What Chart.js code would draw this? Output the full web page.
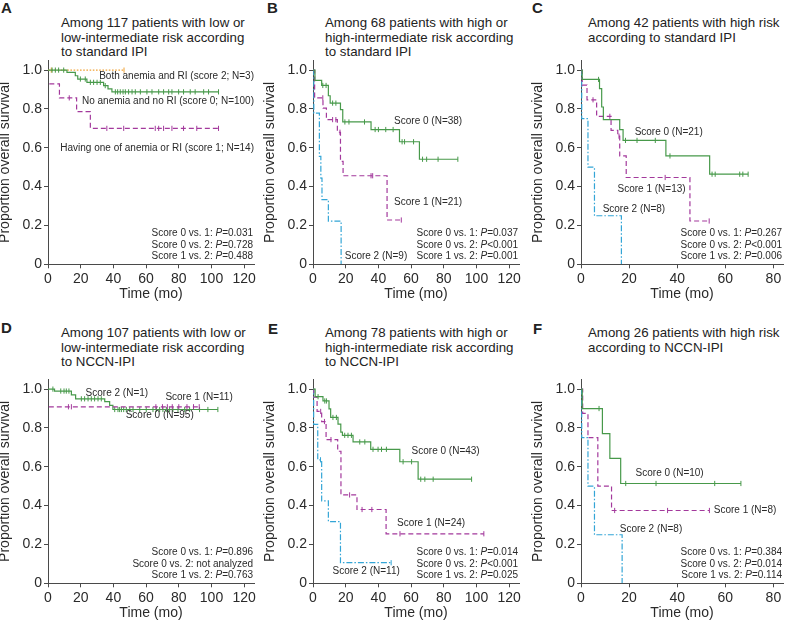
<!DOCTYPE html>
<html>
<head>
<meta charset="utf-8">
<script src="https://cdn.jsdelivr.net/npm/chart.js@4.4.1/dist/chart.umd.min.js"></script>
<style>
  body { margin: 0; width: 788px; height: 626px; position: relative; overflow: hidden; background: #fff;
         font-family: "Liberation Sans", Arial, sans-serif; color: #222; }
  canvas { position: absolute; }
  .letter { position: absolute; font-weight: bold; font-size: 15px; line-height: 15px; }
  .title { position: absolute; font-size: 13.3px; line-height: 14.5px; white-space: nowrap; }
</style>
</head>
<body>
<div id="root"></div>
<script>
'use strict';

// ── Shared axis values ─────────────────────────────────────────────────────
var X_TICKS_LONG  = [0, 20, 40, 60, 80, 100, 120];
var X_TICKS_SHORT = [0, 20, 40, 60, 80];
var Y_TICKS       = [0, 0.2, 0.4, 0.6, 0.8, 1.0];
var COMPARISONS   = ['Score 0 vs. 1', 'Score 0 vs. 2', 'Score 1 vs. 2'];

// ── Panel A: standard IPI, low / low-intermediate ──────────────────────────
var A_t0 = [0, 11.6, 16.7, 18.2, 23.8, 34, 36.7, 39.1];
var A_s0 = [1, 0.988, 0.971, 0.954, 0.937, 0.92, 0.903, 0.888];
var A_c0 = [2.5, 4.5, 6.5, 9.6, 19.8, 22.8, 25.9, 27.9, 30, 32, 35, 41.2, 42.6, 44.2, 45.9, 47.3, 49.3,
            51.4, 53.4, 56.5, 60.5, 63.6, 67.7, 70.7, 73.8, 75.8, 79.9, 82.9, 87, 90, 95.2, 98.2, 104.3];
var A_t1 = [0.8, 7, 17.5, 25.9];
var A_s1 = [0.929, 0.857, 0.786, 0.70];
var A_c1 = [13, 36, 46.3, 65.6, 67.7, 70.7, 75.8, 82.9, 91, 104.3];
var A_t2 = [0];
var A_s2 = [1];
var A_c2 = [2, 46.5];
var A_P  = ['=0.031', '=0.728', '=0.488'];

// ── Panel B: standard IPI, high / high-intermediate ────────────────────────
var B_t0 = [0, 1.2, 5.3, 9.4, 10.5, 16.8, 18.2, 35.5, 52.9, 65.1];
var B_s0 = [1, 0.947, 0.921, 0.868, 0.83, 0.796, 0.733, 0.694, 0.631, 0.541];
var B_c0 = [6, 8, 12, 14, 19.5, 22, 31.5, 38, 40, 44.5, 49, 54.5, 56, 61.5, 67, 69.5, 76.5, 88.6];
var B_t1 = [0, 1, 6.1, 8.2, 14.9, 16.8, 18.4, 45.3];
var B_s1 = [1, 0.857, 0.804, 0.745, 0.68, 0.53, 0.456, 0.228];
var B_c1 = [6, 12, 14, 16.5, 35.5, 36.5, 54];
var B_t2 = [0, 0.5, 3.9, 4.8, 5.5, 9.4, 17.2];
var B_s2 = [1, 0.778, 0.556, 0.444, 0.333, 0.222, 0];
var B_c2 = [];
var B_P  = ['=0.037', '<0.001', '=0.001'];

// ── Panel C: standard IPI, high ────────────────────────────────────────────
var C_t0 = [0, 0.5, 7.7, 8.6, 9.3, 16.1, 17.5, 35.3, 53.5];
var C_s0 = [1, 0.952, 0.905, 0.81, 0.745, 0.694, 0.638, 0.558, 0.464];
var C_c0 = [7.3, 18.5, 23.3, 30.9, 37, 54.5, 55.8, 66, 67.3, 69.5];
var C_t1 = [0, 0.5, 2.5, 6.5, 12.5, 15.3, 16.1, 18.8, 45.3];
var C_s1 = [1, 0.923, 0.847, 0.762, 0.69, 0.66, 0.558, 0.447, 0.223];
var C_c1 = [5, 12, 15.8, 35, 53.3];
var C_t2 = [0, 0.3, 2.9, 5.6, 16.8];
var C_s2 = [1, 0.75, 0.5, 0.25, 0];
var C_c2 = [];
var C_P  = ['=0.267', '<0.001', '=0.006'];

// ── Panel D: NCCN-IPI, low / low-intermediate ──────────────────────────────
var D_t0 = [0, 4, 14.3, 16.9, 34.7, 37.7, 39.7];
var D_s0 = [1, 0.99, 0.97, 0.95, 0.936, 0.916, 0.895];
var D_c0 = [3, 7.8, 9.8, 11.2, 12.8, 20.4, 22.4, 24.5, 26.5, 28.5, 30.6, 32.6, 40.8, 42.8, 43.8, 44.9,
            46.3, 47.9, 50, 52, 56.1, 60.1, 64.2, 66.3, 68.3, 70.3, 72.4, 74.4, 76.4, 79.5, 83.6, 86.6,
            92.7, 97.8, 103.9];
var D_t1 = [0.5];
var D_s1 = [0.909];
var D_c1 = [12.5, 14.3, 66, 70, 73, 76, 80, 85, 89, 92.5];
var D_P  = ['=0.896', null, '=0.763'];

// ── Panel E: NCCN-IPI, high / high-intermediate ────────────────────────────
var E_t0 = [0, 1.3, 6.1, 9.8, 10.8, 15.3, 17, 18, 24.5, 35.3, 53.1, 64.3];
var E_s0 = [1, 0.961, 0.939, 0.898, 0.854, 0.82, 0.779, 0.762, 0.728, 0.69, 0.626, 0.536];
var E_c0 = [3.1, 7.2, 8.2, 12.2, 14.3, 19.4, 21.4, 23.5, 28.6, 31.7, 36.7, 39.8, 41.9, 44.9, 55.1,
            60.3, 65.9, 68.4, 73.5, 97];
var E_t1 = [0, 0.5, 2.5, 5.3, 8, 15.1, 17.1, 26.9, 44.7];
var E_s1 = [1, 0.958, 0.885, 0.833, 0.74, 0.68, 0.455, 0.38, 0.255];
var E_c1 = [4.7, 7, 11, 22.4, 30, 36, 53.2, 104.5];
var E_t2 = [0, 0.4, 2.9, 5.3, 9.4, 16.8];
var E_s2 = [1, 0.818, 0.636, 0.424, 0.318, 0.106];
var E_c2 = [4.6, 47.8];
var E_P  = ['=0.014', '<0.001', '=0.025'];

// ── Panel F: NCCN-IPI, high ────────────────────────────────────────────────
var F_t0 = [0, 0.5, 8.9, 12, 16.5];
var F_s0 = [1, 0.9, 0.771, 0.643, 0.514];
var F_c0 = [7.5, 18.6, 31.2, 55.6, 66.5];
var F_t1 = [0, 0.7, 2.9, 7, 12.7];
var F_s1 = [1, 0.875, 0.75, 0.5, 0.375];
var F_c1 = [14, 36, 53.4];
var F_t2 = [0, 0.3, 2.9, 5.6, 17.1];
var F_s2 = [1, 0.75, 0.5, 0.25, 0];
var F_c2 = [];
var F_P  = ['=0.384', '=0.014', '=0.114'];

// ── Styles ─────────────────────────────────────────────────────────────────
var FONT_FAMILY = '"Liberation Sans", Arial, sans-serif';
var AXIS_COLOR  = '#4a4a4a';
var TEXT_COLOR  = '#2a2a2a';
var NOTE_FONT   = '10px ' + FONT_FAMILY;
var NOTE_ITALIC = 'italic 10px ' + FONT_FAMILY;
var PVAL_OFFSETS = [31, 19.5, 8];   // px above the x axis, one per comparison line

var STYLES = {
  green:  { color: '#47994a', dash: [] },
  purple: { color: '#a3399c', dash: [5, 3] },
  cyan:   { color: '#33a5d6', dash: [6, 2, 1.5, 2] },
  orange: { color: '#f0a236', dash: [1.6, 1.6] }
};

// ── Panel layout ───────────────────────────────────────────────────────────
var PANELS = [
  { letter: 'A', left: -3, top: 50, width: 262, padRight: 5, xMax: 126, xTicks: X_TICKS_LONG,
    letterPos: [1, 0], titlePos: [61, 16],
    title: ['Among 117 patients with low or', 'low-intermediate risk according', 'to standard IPI'],
    series: [
      { style: 'green',  t: A_t0, s: A_s0, c: A_c0 },
      { style: 'purple', t: A_t1, s: A_s1, c: A_c1 },
      { style: 'orange', t: A_t2, s: A_s2, c: A_c2 }
    ],
    notes: [
      { text: 'Both anemia and RI (score 2; N=3)',         x: 126, y: 0.966, align: 'right' },
      { text: 'No anemia and no RI (score 0; N=100)',      x: 126, y: 0.838, align: 'right' },
      { text: 'Having one of anemia or RI (score 1; N=14)', x: 126, y: 0.60,  align: 'right' }
    ],
    pvals: A_P },
  { letter: 'B', left: 262, top: 50, width: 262, padRight: 5, xMax: 126, xTicks: X_TICKS_LONG,
    letterPos: [267, 0], titlePos: [325, 16],
    title: ['Among 68 patients with high or', 'high-intermediate risk according', 'to standard IPI'],
    series: [
      { style: 'green',  t: B_t0, s: B_s0, c: B_c0 },
      { style: 'purple', t: B_t1, s: B_s1, c: B_c1 },
      { style: 'cyan',   t: B_t2, s: B_s2, c: B_c2 }
    ],
    notes: [
      { text: 'Score 0 (N=38)', x: 49.6, y: 0.736, align: 'left' },
      { text: 'Score 1 (N=21)', x: 49.6, y: 0.319, align: 'left' },
      { text: 'Score 2 (N=9)',  x: 19.4, y: 0.042, align: 'left' }
    ],
    pvals: B_P },
  { letter: 'C', left: 530, top: 50, width: 258, padRight: 3, xMax: 84, xTicks: X_TICKS_SHORT,
    letterPos: [532, 0], titlePos: [588, 16],
    title: ['Among 42 patients with high risk', 'according to standard IPI'],
    series: [
      { style: 'green',  t: C_t0, s: C_s0, c: C_c0 },
      { style: 'purple', t: C_t1, s: C_s1, c: C_c1 },
      { style: 'cyan',   t: C_t2, s: C_s2, c: C_c2 }
    ],
    notes: [
      { text: 'Score 0 (N=21)', x: 22.3, y: 0.68,  align: 'left' },
      { text: 'Score 1 (N=13)', x: 15.2, y: 0.388, align: 'left' },
      { text: 'Score 2 (N=8)',  x: 9,    y: 0.281, align: 'left' }
    ],
    pvals: C_P },
  { letter: 'D', left: -3, top: 369, width: 262, padRight: 5, xMax: 126, xTicks: X_TICKS_LONG,
    letterPos: [1, 320], titlePos: [61, 326],
    title: ['Among 107 patients with low or', 'low-intermediate risk according', 'to NCCN-IPI'],
    series: [
      { style: 'purple', t: D_t1, s: D_s1, c: D_c1 },
      { style: 'green',  t: D_t0, s: D_s0, c: D_c0 }
    ],
    notes: [
      { text: 'Score 2 (N=1)',  x: 23,   y: 0.981, align: 'left' },
      { text: 'Score 1 (N=11)', x: 71.8, y: 0.96,  align: 'left' },
      { text: 'Score 0 (N=95)', x: 47.5, y: 0.866, align: 'left' }
    ],
    pvals: D_P },
  { letter: 'E', left: 262, top: 369, width: 262, padRight: 5, xMax: 126, xTicks: X_TICKS_LONG,
    letterPos: [268, 321], titlePos: [325, 326],
    title: ['Among 78 patients with high or', 'high-intermediate risk according', 'to NCCN-IPI'],
    series: [
      { style: 'green',  t: E_t0, s: E_s0, c: E_c0 },
      { style: 'purple', t: E_t1, s: E_s1, c: E_c1 },
      { style: 'cyan',   t: E_t2, s: E_s2, c: E_c2 }
    ],
    notes: [
      { text: 'Score 0 (N=43)', x: 60.3, y: 0.68,  align: 'left' },
      { text: 'Score 1 (N=24)', x: 51.4, y: 0.311, align: 'left' },
      { text: 'Score 2 (N=11)', x: 11.9, y: 0.064, align: 'left' }
    ],
    pvals: E_P },
  { letter: 'F', left: 530, top: 369, width: 258, padRight: 3, xMax: 84, xTicks: X_TICKS_SHORT,
    letterPos: [533, 321], titlePos: [588, 326],
    title: ['Among 26 patients with high risk', 'according to NCCN-IPI'],
    series: [
      { style: 'green',  t: F_t0, s: F_s0, c: F_c0 },
      { style: 'purple', t: F_t1, s: F_s1, c: F_c1 },
      { style: 'cyan',   t: F_t2, s: F_s2, c: F_c2 }
    ],
    notes: [
      { text: 'Score 0 (N=10)', x: 22.7, y: 0.566, align: 'left' },
      { text: 'Score 1 (N=8)',  x: 55.2, y: 0.374, align: 'left' },
      { text: 'Score 2 (N=8)',  x: 16.1, y: 0.28,  align: 'left' }
    ],
    pvals: F_P }
];

// ── Kaplan-Meier helpers ───────────────────────────────────────────────────

// Step outline: horizontal to the event time, then the drop.
function stepPoints(t, s, c) {
  var pts = [{ x: t[0], y: s[0] }];
  for (var i = 1; i < t.length; i++) {
    pts.push({ x: t[i], y: s[i - 1] });
    pts.push({ x: t[i], y: s[i] });
  }
  var last = t[t.length - 1];
  var end = c.length ? Math.max(last, c[c.length - 1]) : last;
  if (end > last) pts.push({ x: end, y: s[s.length - 1] });
  return pts;
}

function survivalAt(t, s, time) {
  var v = s[0];
  for (var i = 0; i < t.length; i++) if (t[i] <= time) v = s[i];
  return v;
}

function censorPoints(t, s, c) {
  return c.map(function (time) { return { x: time, y: survivalAt(t, s, time) }; });
}

// ── Text plugin: curve labels and p-values ─────────────────────────────────
var kmNotes = {
  id: 'kmNotes',
  afterDatasetsDraw: function (chart, args, opts) {
    if (!opts || !opts.notes) return;
    var ctx = chart.ctx, xs = chart.scales.x, ys = chart.scales.y, area = chart.chartArea;
    ctx.save();
    ctx.fillStyle = TEXT_COLOR;
    ctx.textBaseline = 'middle';
    ctx.font = NOTE_FONT;
    opts.notes.forEach(function (n) {
      ctx.textAlign = n.align;
      ctx.fillText(n.text, xs.getPixelForValue(n.x), ys.getPixelForValue(n.y));
    });

    ctx.textAlign = 'left';
    opts.pvals.forEach(function (p, i) {
      var parts = p === null
        ? [[COMPARISONS[i] + ': not analyzed', NOTE_FONT]]
        : [[COMPARISONS[i] + ': ', NOTE_FONT], ['P', NOTE_ITALIC], [p, NOTE_FONT]];
      var total = 0;
      parts.forEach(function (q) { ctx.font = q[1]; total += ctx.measureText(q[0]).width; });
      var x = area.right - 1 - total, y = area.bottom - PVAL_OFFSETS[i];
      parts.forEach(function (q) {
        ctx.font = q[1];
        ctx.fillText(q[0], x, y);
        x += ctx.measureText(q[0]).width;
      });
    });
    ctx.restore();
  }
};

// ── Build panels ───────────────────────────────────────────────────────────
Chart.defaults.font.family = FONT_FAMILY;
var root = document.getElementById('root');

PANELS.forEach(function (p) {
  var letter = document.createElement('div');
  letter.className = 'letter';
  letter.textContent = p.letter;
  letter.style.left = p.letterPos[0] + 'px';
  letter.style.top = p.letterPos[1] + 'px';
  root.appendChild(letter);

  var title = document.createElement('div');
  title.className = 'title';
  title.innerHTML = p.title.join('<br>');
  title.style.left = p.titlePos[0] + 'px';
  title.style.top = p.titlePos[1] + 'px';
  root.appendChild(title);

  var canvas = document.createElement('canvas');
  canvas.width = p.width;
  canvas.height = 256;
  canvas.style.left = p.left + 'px';
  canvas.style.top = p.top + 'px';
  root.appendChild(canvas);

  var datasets = [];
  p.series.forEach(function (sr) {
    var st = STYLES[sr.style];
    datasets.push({
      data: stepPoints(sr.t, sr.s, sr.c),
      showLine: true, borderColor: st.color, borderWidth: 1.2, borderDash: st.dash,
      pointRadius: 0, fill: false, tension: 0
    });
    datasets.push({
      data: censorPoints(sr.t, sr.s, sr.c),
      showLine: false, pointStyle: 'line', rotation: 90, pointRadius: 2.6,
      borderColor: st.color, borderWidth: 1
    });
  });

  new Chart(canvas, {
    type: 'scatter',
    data: { datasets: datasets },
    options: {
      responsive: false,
      animation: false,
      events: [],
      layout: { padding: { top: 8.5, right: p.padRight, bottom: 0, left: 0 } },
      plugins: {
        legend: { display: false },
        tooltip: { enabled: false },
        kmNotes: { notes: p.notes, pvals: p.pvals }
      },
      scales: {
        x: {
          type: 'linear', min: 0, max: p.xMax,
          afterBuildTicks: function (s) { s.ticks = p.xTicks.map(function (v) { return { value: v }; }); },
          afterFit: function (s) { s.height = 41.7; },
          grid: { drawOnChartArea: false, tickLength: 4, color: AXIS_COLOR },
          border: { color: AXIS_COLOR, width: 1 },
          ticks: { color: TEXT_COLOR, font: { size: 14 }, padding: 2, maxRotation: 0, autoSkip: false },
          title: { display: true, text: 'Time (mo)', color: TEXT_COLOR, font: { size: 14 },
                   padding: { top: 0, bottom: 3.3 } }
        },
        y: {
          type: 'linear', min: 0, max: 1.05,
          afterBuildTicks: function (s) { s.ticks = Y_TICKS.map(function (v) { return { value: v }; }); },
          afterFit: function (s) { s.width = 51; },
          grid: { drawOnChartArea: false, tickLength: 4, color: AXIS_COLOR },
          border: { color: AXIS_COLOR, width: 1 },
          ticks: {
            color: TEXT_COLOR, font: { size: 14 }, padding: 2,
            callback: function (v) { return v === 0 ? '0' : v.toFixed(1); }
          },
          title: { display: true, text: 'Proportion overall survival', color: TEXT_COLOR,
                   font: { size: 14 }, padding: { top: 0, bottom: 0 } }
        }
      }
    },
    plugins: [kmNotes]
  });
});
</script>
</body>
</html>
